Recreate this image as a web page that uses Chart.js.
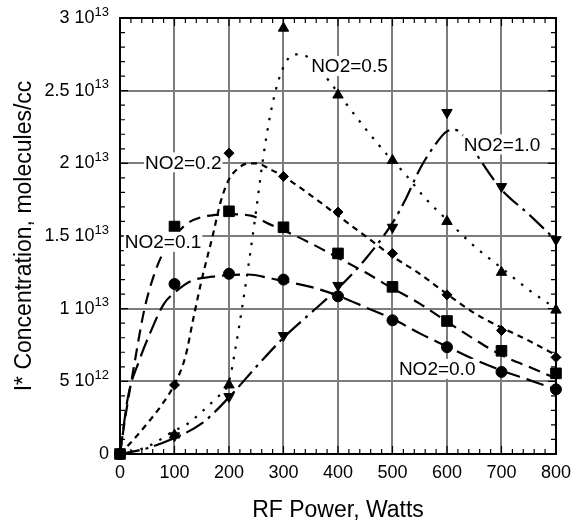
<!DOCTYPE html>
<html>
<head>
<meta charset="utf-8">
<script src="https://cdn.jsdelivr.net/npm/chart.js@4.4.1/dist/chart.umd.min.js"></script>
<style>
  html, body { margin: 0; padding: 0; background: #fff; }
</style>
</head>
<body>
<canvas id="chart" width="579" height="527"></canvas>
<script>
// RF power (W) at which I* was measured
const power = [0, 100, 200, 300, 400, 500, 600, 700, 800];

// measured I* concentration, units of 1e12 molecules/cc
const meas00 = [0, 11.7, 12.4, 12.0, 10.85, 9.2, 7.35, 5.65, 4.45];
const meas01 = [0, 15.65, 16.7, 15.6, 13.8, 11.5, 9.15, 7.1, 5.55];
const meas02 = [0, 4.75, 20.7, 19.1, 16.65, 13.8, 10.95, 8.5, 6.65];
const meas05 = [0, 1.3, 4.75, 29.3, 24.7, 20.2, 16.0, 12.5, 9.9];
const meas10 = [0, 1.25, 3.95, 8.15, 11.6, 15.6, 23.5, 18.4, 14.75];

// fitted curves (power, I*)
const fit00W = [0, 15, 35, 55, 80, 100, 130, 170, 200, 235, 275, 300, 350, 400, 450, 500, 550, 600, 650, 700, 750, 800];
const fit00C = [0, 4.0, 6.4, 8.3, 10.3, 11.1, 11.9, 12.2, 12.3, 12.35, 12.1, 11.9, 11.5, 10.9, 10.1, 9.3, 8.3, 7.4, 6.5, 5.75, 5.1, 4.45];
const fit01W = [0, 10, 25, 45, 65, 80, 100, 125, 150, 175, 200, 240, 275, 300, 350, 400, 450, 500, 550, 600, 650, 700, 750, 800];
const fit01C = [0, 2.6, 5.9, 10.0, 12.6, 13.9, 15.0, 15.9, 16.3, 16.45, 16.5, 16.4, 15.8, 15.4, 14.5, 13.5, 12.5, 11.4, 10.35, 9.1, 7.9, 6.8, 6.0, 5.2];
const fit02W = [0, 25, 50, 75, 100, 120, 135, 150, 170, 185, 200, 215, 235, 250, 275, 300, 350, 400, 450, 500, 550, 600, 650, 700, 750, 800];
const fit02C = [0, 1.0, 2.1, 3.3, 4.8, 6.7, 9.4, 12.0, 15.0, 17.4, 18.9, 19.6, 20.0, 20.0, 19.6, 19.1, 17.8, 16.4, 15.0, 13.6, 12.4, 11.0, 9.7, 8.7, 7.8, 6.8];
const fit05W = [0, 50, 100, 125, 150, 175, 200, 212, 225, 237, 250, 262, 275, 290, 305, 320, 340, 360, 385, 415, 450, 490, 520, 560, 600, 650, 700, 750, 800];
const fit05C = [0, 0.5, 1.6, 2.1, 2.9, 3.8, 5.0, 7.3, 10.3, 13.3, 16.8, 20.2, 23.2, 25.6, 27.0, 27.5, 27.4, 26.7, 25.6, 24.1, 22.4, 20.6, 19.4, 17.6, 16.1, 14.3, 12.8, 11.3, 10.0];
const fit10W = [0, 50, 100, 150, 200, 250, 300, 350, 400, 450, 500, 525, 550, 575, 600, 615, 635, 665, 700, 750, 800];
const fit10C = [0, 0.4, 1.1, 2.1, 3.9, 6.0, 8.0, 9.7, 11.4, 13.4, 15.9, 17.6, 19.6, 21.1, 22.2, 22.3, 21.7, 20.0, 18.2, 16.5, 14.7];

// y axis ticks (1e12 units) and their printed form
const yTickValues = [0, 5, 10, 15, 20, 25, 30];
const yTickMain = ['0', '5 10', '1 10', '1.5 10', '2 10', '2.5 10', '3 10'];
const yTickExp = ['', '12', '13', '13', '13', '13', '13'];

// curve captions: text and the (power, I*) point they sit on
const captionText = ['NO2=0.0', 'NO2=0.1', 'NO2=0.2', 'NO2=0.5', 'NO2=1.0'];
const captionW = [582, 79, 116, 421, 701];
const captionC = [5.86, 14.6, 20.07, 26.7, 21.3];

const FONT = 'Liberation Sans, Arial, Helvetica, sans-serif';
const GRID = '#7c7c7c';

const pairs = (xs, ys) => xs.map((x, i) => ({ x: x, y: ys[i] }));

const fitLine = (w, c, dash) => ({
    type: 'line',
    data: pairs(w, c),
    borderColor: '#000',
    borderWidth: 2.2,
    borderDash: dash,
    borderCapStyle: 'butt',
    pointRadius: 0,
    fill: false,
    cubicInterpolationMode: 'monotone',
    order: 2,
});

// markers may sit on the frame, so they are not clipped
const markers = (vals, style, radius, rotation) => ({
    type: 'scatter',
    data: pairs(power, vals),
    pointStyle: style,
    pointRadius: radius,
    pointRotation: rotation || 0,
    backgroundColor: '#000',
    borderColor: '#000',
    borderWidth: 1,
    showLine: false,
    clip: false,
    order: 0,
});

// frame, minor ticks, y labels and curve captions
const decorations = {
    id: 'decorations',
    beforeDatasetsDraw(chart) {
        const { ctx, chartArea: a, scales: { x, y } } = chart;
        ctx.save();
        ctx.strokeStyle = '#000';
        ctx.lineWidth = 1.2;
        ctx.beginPath();
        for (let w = 0; w <= 800; w += 20) {
            const px = x.getPixelForValue(w);
            const len = w % 100 === 0 ? 8 : 5;
            ctx.moveTo(px, a.bottom); ctx.lineTo(px, a.bottom - len);
            ctx.moveTo(px, a.top); ctx.lineTo(px, a.top + len);
        }
        for (let v = 0; v <= 30; v += 1) {
            const py = y.getPixelForValue(v);
            const len = v % 5 === 0 ? 8 : 5;
            ctx.moveTo(a.left, py); ctx.lineTo(a.left + len, py);
            ctx.moveTo(a.right, py); ctx.lineTo(a.right - len, py);
        }
        ctx.stroke();
        ctx.lineWidth = 2;
        ctx.strokeRect(a.left, a.top, a.right - a.left, a.bottom - a.top);

        ctx.fillStyle = '#000';
        ctx.textBaseline = 'middle';
        yTickValues.forEach((v, i) => {
            const py = y.getPixelForValue(v);
            let right = a.left - 11;
            ctx.textAlign = 'right';
            if (yTickExp[i]) {
                ctx.font = '13px ' + FONT;
                ctx.fillText(yTickExp[i], right, py - 6);
                right -= ctx.measureText(yTickExp[i]).width;
            }
            ctx.font = '18px ' + FONT;
            ctx.fillText(yTickMain[i], right, py);
        });
        ctx.restore();
    },
    afterDatasetsDraw(chart) {
        const { ctx, scales: { x, y } } = chart;
        ctx.save();
        ctx.font = '19px ' + FONT;
        ctx.textAlign = 'center';
        ctx.textBaseline = 'middle';
        captionText.forEach((t, i) => {
            const px = x.getPixelForValue(captionW[i]);
            const py = y.getPixelForValue(captionC[i]);
            const w = ctx.measureText(t).width;
            ctx.fillStyle = '#fff';
            ctx.fillRect(px - w / 2 - 1, py - 10, w + 2, 20);
            ctx.fillStyle = '#000';
            ctx.fillText(t, px, py + 1);
        });
        ctx.restore();
    },
};

Chart.defaults.font.family = FONT;
Chart.defaults.color = '#000';

new Chart(document.getElementById('chart'), {
    data: {
        datasets: [
            fitLine(fit00W, fit00C, [18, 7]),
            fitLine(fit01W, fit01C, [12, 7]),
            fitLine(fit02W, fit02C, [6, 5]),
            fitLine(fit05W, fit05C, [2.5, 8]),
            fitLine(fit10W, fit10C, [20, 6, 3, 6]),
            markers(meas00, 'circle', 5.5),
            markers(meas01, 'rect', 7.5),
            markers(meas02, 'rectRot', 5),
            markers(meas05, 'triangle', 6),
            markers(meas10, 'triangle', 6, 180),
        ],
    },
    options: {
        responsive: false,
        devicePixelRatio: 1,
        animation: false,
        layout: { padding: { top: 18, right: 22, left: 0, bottom: 0 } },
        plugins: {
            legend: { display: false },
            tooltip: { enabled: false },
        },
        scales: {
            x: {
                type: 'linear',
                min: 0,
                max: 800,
                ticks: { stepSize: 100, padding: 8, font: { size: 18 } },
                grid: { color: GRID, lineWidth: 2, drawTicks: false },
                border: { color: '#000', width: 2 },
                title: {
                    display: true,
                    text: 'RF Power, Watts',
                    font: { size: 23 },
                    padding: { top: 0, bottom: 3 },
                },
                afterFit: (s) => { s.height = 73; },
            },
            y: {
                type: 'linear',
                min: 0,
                max: 30,
                ticks: { stepSize: 5, display: false },
                grid: { color: GRID, lineWidth: 2, drawTicks: false },
                border: { color: '#000', width: 2 },
                title: {
                    display: true,
                    text: 'I* Concentration, molecules/cc',
                    font: { size: 23 },
                    padding: { top: 11, bottom: 0 },
                },
                afterFit: (s) => { s.width = 120; },
            },
        },
    },
    plugins: [decorations],
});
</script>
</body>
</html>
